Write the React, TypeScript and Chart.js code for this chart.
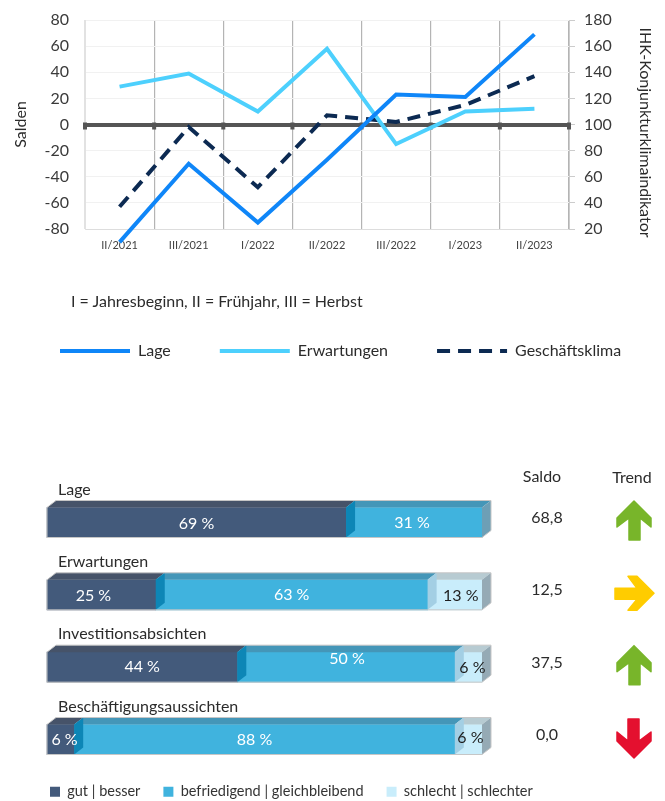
import React, { useEffect, useRef } from "react";
import { Chart, registerables } from "chart.js";

Chart.register(...registerables);

// ---- line chart data
const periods = ["II/2021", "III/2021", "I/2022", "II/2022", "III/2022", "I/2023", "II/2023"];
const lage = [-90, -30, -75, -27, 23, 21, 69];
const erwartungen = [29, 39, 10, 58, -15, 10, 12];
const geschaeftsklima = [37, 98, 52, 107, 102, 115, 137];
const noteText = "I = Jahresbeginn, II = Frühjahr, III = Herbst";
const rightTitle = "IHK-Konjunkturklimaindikator";

// ---- stacked bar data
const rows = ["Lage", "Erwartungen", "Investitionsabsichten", "Beschäftigungsaussichten"];
const gutBesser = [68.75, 25, 43.75, 6.25];
const befriedigend = [31.25, 62.5, 50, 87.5];
const schlecht = [0, 12.5, 6.25, 6.25];
const saldo = ["68,8", "12,5", "37,5", "0,0"];
const trend = ["up", "right", "up", "down"];

const FONT = "Lato, 'Noto Sans', sans-serif";
const TEXT = "#2b2b2b";

// style tables for the pseudo-3D bars
const FRONT = ["#435a7b", "#40b3de", "#c9edfb"];
const TOP = ["#465369", "#4496b8", "#b7cbd2"];
const SIDE = ["#0d86b6", "#a3cfe4", "#95aab5"];
const END_SIDE = ["#435a7b", "#6d9fb6", "#95aab5"];
const DX = 9;
const DY = 7;
const NUDGE: Record<string, [number, number]> = {
  "0,0": [0, 1], "0,1": [-2, 0],
  "1,0": [-8, 1], "1,2": [6, 1],
  "2,1": [1, -8], "2,2": [4, 1],
  "3,0": [4, 0], "3,1": [-10, 0], "3,2": [2, -2],
};
const TREND_COLOR: Record<string, string> = { up: "#78b52a", right: "#ffcc00", down: "#e4102f" };
const TREND_ANGLE: Record<string, number> = { up: 0, right: Math.PI / 2, down: Math.PI };

function poly(ctx: CanvasRenderingContext2D, pts: number[][], fill: string) {
  ctx.beginPath();
  pts.forEach((p, i) => (i ? ctx.lineTo(p[0], p[1]) : ctx.moveTo(p[0], p[1])));
  ctx.closePath();
  ctx.fillStyle = fill;
  ctx.fill();
}

const zeroTicks = {
  id: "zeroTicks",
  beforeDatasetsDraw(chart: any) {
    const { ctx, scales } = chart;
    const x = scales.x;
    const y0 = scales.y.getPixelForValue(0);
    const step = x.getPixelForValue(1) - x.getPixelForValue(0);
    ctx.save();
    ctx.fillStyle = "#555555";
    for (let i = 0; i <= periods.length; i++) {
      const px = x.getPixelForValue(0) - step / 2 + i * step;
      ctx.fillRect(px - 2, y0 - 2, 4, 7);
    }
    ctx.restore();
  },
};

const rightAxisTitle = {
  id: "rightAxisTitle",
  afterDraw(chart: any) {
    const { ctx, scales } = chart;
    ctx.save();
    ctx.translate(chart.chartArea.right + 76, scales.y.getPixelForValue(0) + 8);
    ctx.rotate(Math.PI / 2);
    ctx.font = `16px ${FONT}`;
    ctx.fillStyle = TEXT;
    ctx.textAlign = "center";
    ctx.textBaseline = "middle";
    ctx.fillText(rightTitle, 0, 0);
    ctx.restore();
  },
};

const bars3d = {
  id: "bars3d",
  afterDatasetsDraw(chart: any) {
    const { ctx } = chart;
    const metas = [0, 1, 2].map((d) => chart.getDatasetMeta(d));
    ctx.save();
    rows.forEach((name, r) => {
      const els = metas.map((m: any) => m.data[r].getProps(["x", "base", "y", "height"], true));
      const top = els[0].y - els[0].height / 2;
      const bottom = els[0].y + els[0].height / 2;
      const left = els[0].base;
      const present = els.map((_: any, s: number) => chart.data.datasets[s].data[r] > 0);
      const lastIdx = present.lastIndexOf(true);
      const right = els[lastIdx].x;

      els.forEach((e: any, s: number) => {
        if (!present[s]) return;
        poly(ctx, [[e.base, top], [e.base + DX, top - DY], [e.x + DX, top - DY], [e.x, top]], TOP[s]);
      });
      els.forEach((e: any, s: number) => {
        if (!present[s]) return;
        const color = s === lastIdx ? END_SIDE[s] : SIDE[s];
        poly(ctx, [[e.x, top], [e.x + DX, top - DY], [e.x + DX, bottom - DY], [e.x, bottom]], color);
      });

      ctx.beginPath();
      ctx.moveTo(left, top);
      ctx.lineTo(left + DX, top - DY);
      ctx.lineTo(right + DX, top - DY);
      ctx.lineTo(right + DX, bottom - DY);
      ctx.lineTo(right, bottom);
      ctx.lineTo(left, bottom);
      ctx.closePath();
      ctx.strokeStyle = "#c6c6c6";
      ctx.lineWidth = 1;
      ctx.stroke();

      ctx.font = `16px ${FONT}`;
      ctx.textBaseline = "middle";
      ctx.textAlign = "center";
      els.forEach((e: any, s: number) => {
        if (!present[s]) return;
        const v = chart.data.datasets[s].data[r];
        const n = NUDGE[`${r},${s}`] || [0, 0];
        ctx.fillStyle = s === 2 ? "#1f1f1f" : "#ffffff";
        ctx.fillText(`${Math.round(v)} %`, (e.base + e.x) / 2 + n[0], e.y + n[1]);
      });

      ctx.textAlign = "left";
      ctx.fillStyle = TEXT;
      ctx.fillText(name, left + 11, els[0].y - 33);

      const saldoX = right + 65;
      const arrowX = right + 152;
      ctx.textAlign = "center";
      ctx.fillText(saldo[r], saldoX, els[0].y - 4.5);
      if (r === 0) {
        ctx.fillText("Saldo", saldoX - 5, els[0].y - 46);
        ctx.fillText("Trend", arrowX - 2, els[0].y - 45);
      }

      ctx.save();
      ctx.translate(arrowX, els[0].y - 1.5);
      ctx.rotate(TREND_ANGLE[trend[r]]);
      ctx.beginPath();
      [[0, -20], [17, -3], [17, 6], [6, -3], [6, 19], [-5, 19], [-5, -3], [-17, 6], [-17, -3]].forEach((p, i) =>
        i ? ctx.lineTo(p[0], p[1]) : ctx.moveTo(p[0], p[1])
      );
      ctx.closePath();
      ctx.fillStyle = TREND_COLOR[trend[r]];
      ctx.strokeStyle = TREND_COLOR[trend[r]];
      ctx.lineWidth = 1.5;
      ctx.lineJoin = "round";
      ctx.fill();
      ctx.stroke();
      ctx.restore();
    });
    ctx.restore();
  },
};

export default function App() {
  const lineRef = useRef<HTMLCanvasElement>(null);
  const barRef = useRef<HTMLCanvasElement>(null);

  useEffect(() => {
    const axisTick = { color: "#3a3a3a", font: { family: FONT, size: 16 } };
    const line = new Chart(lineRef.current!, {
      type: "line",
      data: {
        labels: periods,
        datasets: [
          { label: "Lage", data: lage, yAxisID: "y", borderColor: "#0f86f8", backgroundColor: "#0f86f8", borderWidth: 4, pointRadius: 0, tension: 0, clip: false as any },
          { label: "Erwartungen", data: erwartungen, yAxisID: "y", borderColor: "#4dd0fd", backgroundColor: "#4dd0fd", borderWidth: 4, pointRadius: 0, tension: 0, clip: false as any },
          { label: "Geschäftsklima", data: geschaeftsklima, yAxisID: "y1", borderColor: "#0c2a52", backgroundColor: "#0c2a52", borderWidth: 4, borderDash: [13, 8], pointRadius: 0, tension: 0, clip: false as any },
        ],
      },
      options: {
        responsive: false,
        animation: false,
        layout: { autoPadding: false, padding: { top: 20 } },
        plugins: {
          tooltip: { enabled: false },
          legend: {
            position: "bottom",
            align: "start",
            labels: {
              usePointStyle: true,
              pointStyle: "line",
              pointStyleWidth: 70,
              padding: 49,
              color: TEXT,
              font: { family: FONT, size: 16 },
              generateLabels: (chart: any) =>
                (Chart.defaults.plugins.legend.labels as any).generateLabels(chart).map((item: any, i: number) => ({
                  ...item,
                  lineDash: chart.data.datasets[i].borderDash,
                  lineWidth: chart.data.datasets[i].borderWidth,
                })),
            },
          },
        },
        scales: {
          x: {
            offset: true,
            afterFit(s: any) { s.height = 65; },
            grid: {
              offset: true,
              drawTicks: false,
              color: (c: any) => (c.index === 0 || c.index === periods.length ? "#e2e2e2" : "#b4b4b4"),
              lineWidth: 1.2,
            },
            border: { color: "#dddddd" },
            ticks: { color: "#444", padding: 10, maxRotation: 0, font: { family: FONT, size: 11 } },
          },
          y: {
            position: "left",
            min: -80,
            max: 80,
            afterFit(s: any) { s.width = 74; s.paddingTop = 0; s.paddingBottom = 0; },
            title: { display: true, text: "Salden", color: TEXT, font: { family: FONT, size: 16 }, padding: { top: 0, bottom: 0 } },
            grid: {
              drawTicks: false,
              color: (c: any) => (c.tick.value === 0 ? "#555555" : "#f1f1f1"),
              lineWidth: (c: any) => (c.tick.value === 0 ? 4 : 1),
            },
            border: { color: "#e2e2e2" },
            ticks: { ...axisTick, stepSize: 20, padding: 16, autoSkip: false },
          },
          y1: {
            position: "right",
            min: 20,
            max: 180,
            afterFit(s: any) { s.width = 122; s.paddingTop = 0; s.paddingBottom = 0; },
            grid: { drawOnChartArea: false, tickColor: "#cccccc", tickLength: 6 },
            border: { color: "#cccccc" },
            ticks: { ...axisTick, stepSize: 20, padding: 9, autoSkip: false },
          },
        },
      },
      plugins: [zeroTicks, rightAxisTitle],
    } as any);

    const hiddenAxis = { grid: { display: false }, border: { display: false }, ticks: { display: false } };
    const bar = new Chart(barRef.current!, {
      type: "bar",
      data: {
        labels: rows,
        datasets: [
          { label: "gut | besser", data: gutBesser, backgroundColor: FRONT[0], barThickness: 30, clip: false as any },
          { label: "befriedigend | gleichbleibend", data: befriedigend, backgroundColor: FRONT[1], barThickness: 30, clip: false as any },
          { label: "schlecht | schlechter", data: schlecht, backgroundColor: FRONT[2], barThickness: 30, clip: false as any },
        ],
      },
      options: {
        indexAxis: "y",
        responsive: false,
        animation: false,
        layout: { autoPadding: false, padding: { top: 62.5 } },
        plugins: {
          tooltip: { enabled: false },
          legend: {
            position: "bottom",
            align: "start",
            labels: {
              boxWidth: 10,
              boxHeight: 10,
              padding: 23,
              color: "#333",
              font: { family: FONT, size: 14.5 },
            },
          },
        },
        scales: {
          x: { ...hiddenAxis, stacked: true, min: 0, max: 100, afterFit(s: any) { s.height = 22; } },
          y: { ...hiddenAxis, stacked: true, offset: false, afterFit(s: any) { s.width = 20; } },
          yEnd: { ...hiddenAxis, type: "linear", position: "right", afterFit(s: any) { s.width = 183; } },
        },
      },
      plugins: [bars3d],
    } as any);

    return () => {
      line.destroy();
      bar.destroy();
    };
  }, []);

  return (
    <div style={{ position: "fixed", left: 0, top: 0, width: 665, height: 801, overflow: "hidden", background: "#fff" }}>
      <canvas ref={lineRef} width={680} height={369} style={{ position: "absolute", left: 11, top: 0, display: "block" }} />
      <div style={{ position: "absolute", left: 71, top: 291, font: `16px ${FONT}`, lineHeight: "20px", color: TEXT, whiteSpace: "nowrap" }}>{noteText}</div>
      <canvas ref={barRef} width={638} height={349} style={{ position: "absolute", left: 27, top: 460, display: "block" }} />
    </div>
  );
}
